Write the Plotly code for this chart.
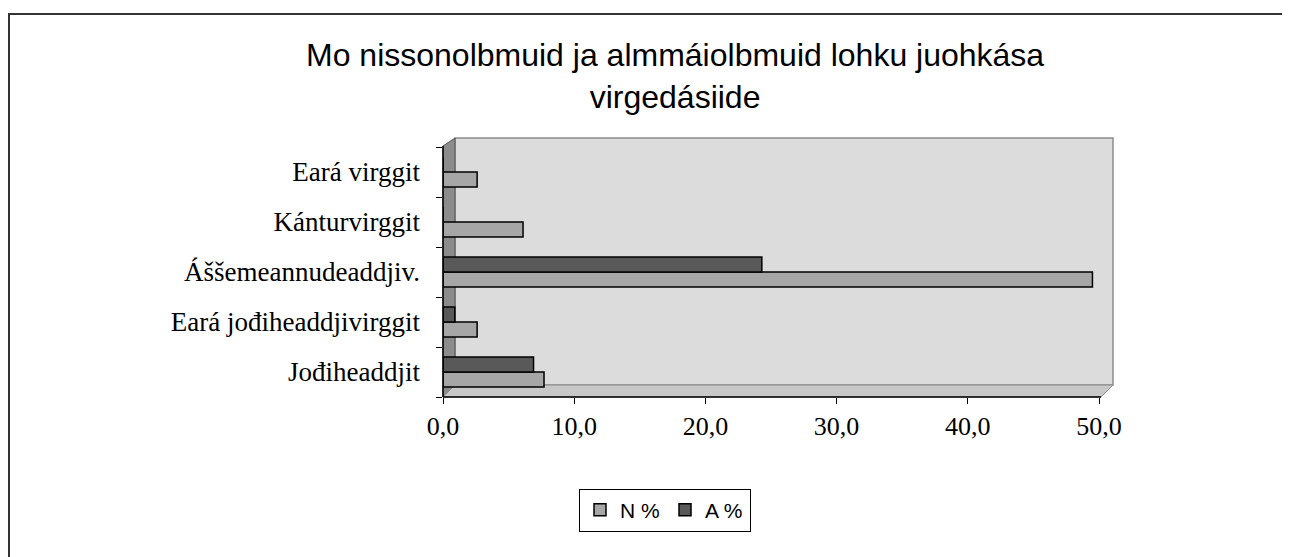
import plotly.graph_objects as go

categories = ["Jođiheaddjit", "Eará jođiheaddjivirggit", "Áššemeannudeaddjiv.", "Kánturvirggit", "Eará virggit"]
n_values = [7.7, 2.6, 49.5, 6.1, 2.6]
a_values = [6.9, 0.9, 24.3, 0.0, 0.0]
x_ticks = [0, 10, 20, 30, 40, 50]
title_text = "Mo nissonolbmuid ja almmáiolbmuid lohku juohkása<br>virgedásiide"

W, H = 1290, 557
OFF = 8  # page body offset in the browser
L, R = 443 - OFF, 1113 - OFF      # plot area pixel bounds (x)
T, B = 138 - OFF, 397 - OFF       # plot area pixel bounds (y)
pw, ph = R - L, B - T
px_per_unit = (1099 - 443) / 50.0
x_max = pw / px_per_unit
cat_px = 50.0
y_top = -0.5 + ph / cat_px


def px(x):
    return (x - OFF - L) / pw


def py(y):
    return (B - (y - OFF)) / ph


fig = go.Figure()
fig.add_trace(go.Bar(
    y=categories, x=n_values, orientation="h", name="N %",
    marker=dict(color="#A6A6A6", line=dict(color="#000000", width=1.5)),
))
fig.add_trace(go.Bar(
    y=categories, x=a_values, orientation="h", name="A %",
    marker=dict(color="#595959", line=dict(color="#000000", width=1.5)),
))

shapes = [
    # back wall
    dict(type="rect", xref="paper", yref="paper", layer="below",
         x0=px(455), x1=px(1113), y0=py(385), y1=py(138),
         fillcolor="#DCDCDC", line=dict(color="#8C8C8C", width=1.5)),
    # left wall
    dict(type="path", xref="paper", yref="paper", layer="below",
         path=f"M {px(443)},{py(397)} L {px(443)},{py(146)} L {px(455)},{py(138)} L {px(455)},{py(385)} Z",
         fillcolor="#8C8C8C", line=dict(color="#555555", width=1)),
    # floor
    dict(type="path", xref="paper", yref="paper", layer="below",
         path=f"M {px(443)},{py(397)} L {px(455)},{py(385)} L {px(1113)},{py(385)} L {px(1101)},{py(397)} Z",
         fillcolor="#C8C8C8", line=dict(color="#8C8C8C", width=1)),
    # chart border (top and left visible)
    dict(type="rect", xref="paper", yref="paper", layer="below",
         x0=px(9), x1=px(1310), y0=py(580), y1=py(14),
         fillcolor="rgba(0,0,0,0)", line=dict(color="#333333", width=2)),
    # front axis lines
    dict(type="line", xref="paper", yref="paper", x0=px(443), x1=px(1101), y0=py(397), y1=py(397),
         line=dict(color="#000000", width=1.5)),
    dict(type="line", xref="paper", yref="paper", x0=px(443), x1=px(443), y0=py(397), y1=py(146),
         line=dict(color="#000000", width=1.5)),
]

annotations = [
    dict(text=title_text, xref="paper", yref="paper", x=px(675), y=py(76),
         xanchor="center", yanchor="middle", showarrow=False, align="center",
         font=dict(family="Liberation Sans, Arial", size=32, color="#000000")),
]

fig.update_layout(
    width=W, height=H,
    margin=dict(l=L, r=W - R, t=T, b=H - B),
    paper_bgcolor="white",
    plot_bgcolor="rgba(0,0,0,0)",
    separators=",.",
    barmode="group",
    bargap=0.4,
    bargroupgap=0,
    xaxis=dict(range=[0, x_max], tickvals=x_ticks, tickformat=".1f",
               showgrid=False, zeroline=False, showline=False,
               ticks="outside", ticklen=6, tickcolor="#000000",
               tickfont=dict(family="Liberation Serif, Times New Roman", size=26, color="#000000"),
               fixedrange=True),
    yaxis=dict(range=[-0.5, y_top], showgrid=False, zeroline=False, showline=False,
               ticks="outside", ticklen=6, tickcolor="#000000", tickson="boundaries",
               ticklabelstandoff=22,
               tickfont=dict(family="Liberation Serif, Times New Roman", size=27, color="#000000"),
               fixedrange=True),
    showlegend=True,
    legend=dict(orientation="h", x=(665 - OFF) / W, xref="container", xanchor="center",
                y=1 - (510 - OFF) / H, yref="container", yanchor="middle",
                bgcolor="white", bordercolor="#000000", borderwidth=1,
                font=dict(family="Liberation Sans, Arial", size=21, color="#000000"),
                itemwidth=30, entrywidth=40, entrywidthmode="pixels", traceorder="normal"),
    shapes=shapes,
    annotations=annotations,
)

fig.write_html("out.html")
